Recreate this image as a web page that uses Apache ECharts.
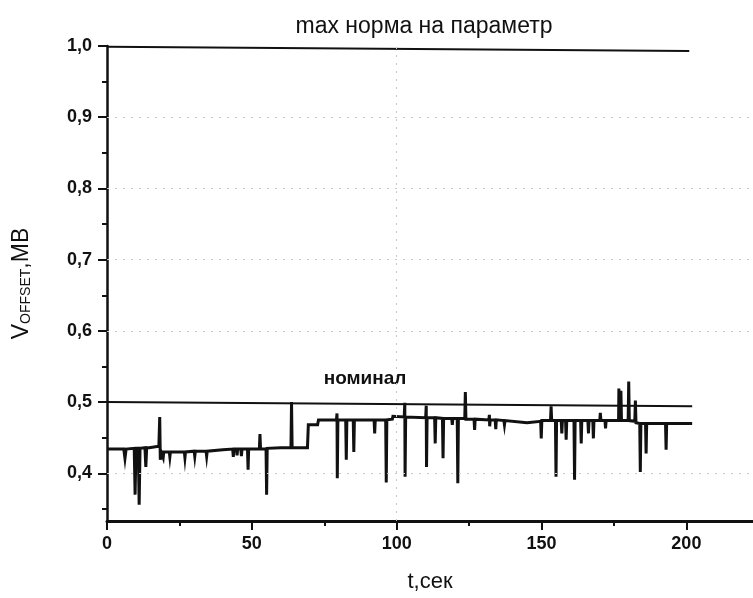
<!DOCTYPE html>
<html>
<head>
<meta charset="utf-8">
<script src="https://cdn.jsdelivr.net/npm/echarts@6/dist/echarts.min.js"></script>
<style>
html,body{margin:0;padding:0;background:#fff;}
#c{width:753px;height:598px;}
</style>
</head>
<body>
<div id="c"></div>
<script>
// ---- data ----
const signalT = [
  0,
  5.8, 6.2, 6.6,
  9.4, 9.7, 10.0,
  10.8, 11.1, 11.4,
  13.1, 13.4, 13.7,
  14.6, 14.9,
  17.9, 18.2, 18.4, 18.7,
  19.2, 19.4, 19.6,
  21.5, 21.7, 21.9,
  26.7, 26.9, 27.1,
  30.1, 30.3, 30.5,
  34.2, 34.4, 34.6,
  40,
  43.4, 43.6, 43.8,
  44.7, 44.9, 45.1,
  46.2, 46.4, 46.6,
  48.5, 48.7, 48.9,
  52.6, 52.8, 53.0,
  54.9, 55.1, 55.3,
  60,
  63.5, 63.7, 63.9,
  69.2, 69.5,
  72.7, 73.0,
  79.2, 79.4, 79.5, 79.7,
  82.4, 82.6, 82.8,
  85.0, 85.2, 85.4,
  92.2, 92.4, 92.6,
  96.2, 96.4, 96.6,
  98.5, 98.7,
  102.6, 102.8, 102.9, 103.1,
  110.0, 110.2, 110.3, 110.5,
  113.1, 113.3, 113.5,
  115.8, 116.0, 116.2,
  119.0, 119.2, 119.4,
  120.9, 121.1, 121.3,
  123.5, 123.7, 123.9,
  126.7, 126.9, 127.1,
  131.8, 132.0, 132.1, 132.3,
  134.0, 134.2, 134.4,
  137.0, 137.2, 137.4,
  145,
  149.7, 149.9, 150.1,
  153.1, 153.3, 153.5,
  154.8, 155.0, 155.2,
  156.8, 157.0, 157.2,
  158.3, 158.5, 158.7,
  161.2, 161.4, 161.6,
  163.5, 163.7, 163.9,
  166.0, 166.2, 166.4,
  167.7, 167.9, 168.1,
  170.1, 170.3, 170.5,
  171.9, 172.1, 172.3,
  176.6, 176.7, 176.9,
  177.3, 177.4, 177.6,
  179.9, 180.1, 180.3,
  182.2, 182.4, 182.6,
  183.9, 184.1, 184.3,
  185.9, 186.1, 186.3,
  192.8, 193.0, 193.2,
  202
];
const signalV = [
  0.434,
  0.434, 0.421, 0.434,
  0.435, 0.370, 0.435,
  0.435, 0.356, 0.435,
  0.436, 0.409, 0.436,
  0.436, 0.438,
  0.438, 0.479, 0.419, 0.430,
  0.430, 0.422, 0.430,
  0.430, 0.423, 0.430,
  0.430, 0.422, 0.430,
  0.431, 0.424, 0.431,
  0.431, 0.424, 0.431,
  0.433,
  0.434, 0.423, 0.434,
  0.434, 0.425, 0.434,
  0.434, 0.424, 0.434,
  0.434, 0.405, 0.434,
  0.434, 0.455, 0.434,
  0.434, 0.370, 0.435,
  0.436,
  0.436, 0.500, 0.436,
  0.436, 0.468,
  0.468, 0.475,
  0.475, 0.484, 0.393, 0.475,
  0.475, 0.419, 0.475,
  0.475, 0.430, 0.475,
  0.475, 0.456, 0.475,
  0.475, 0.387, 0.475,
  0.476, 0.480,
  0.479, 0.499, 0.395, 0.479,
  0.478, 0.495, 0.409, 0.478,
  0.478, 0.442, 0.478,
  0.477, 0.421, 0.477,
  0.477, 0.468, 0.477,
  0.477, 0.386, 0.477,
  0.477, 0.514, 0.476,
  0.476, 0.461, 0.476,
  0.475, 0.482, 0.466, 0.475,
  0.475, 0.462, 0.475,
  0.474, 0.468, 0.474,
  0.471,
  0.473, 0.449, 0.474,
  0.474, 0.494, 0.474,
  0.474, 0.395, 0.474,
  0.474, 0.456, 0.474,
  0.474, 0.447, 0.474,
  0.474, 0.391, 0.474,
  0.474, 0.442, 0.474,
  0.474, 0.456, 0.474,
  0.474, 0.449, 0.474,
  0.474, 0.485, 0.474,
  0.474, 0.463, 0.474,
  0.474, 0.519, 0.474,
  0.474, 0.516, 0.474,
  0.474, 0.529, 0.474,
  0.473, 0.502, 0.471,
  0.470, 0.402, 0.470,
  0.470, 0.428, 0.470,
  0.470, 0.433, 0.470,
  0.470
];
const nominalT = [0, 202];
const nominalV = [0.500, 0.494];
const maxNormT = [0, 201];
const maxNormV = [0.999, 0.993];
const xTicks = [0, 50, 100, 150, 200];
const xMinorTicks = [25, 75, 125, 175];
const yTicks = [0.4, 0.5, 0.6, 0.7, 0.8, 0.9, 1.0];
const yMinorTicks = [0.35, 0.45, 0.55, 0.65, 0.75, 0.85, 0.95];
const gridLinesY = [0.4, 0.6, 0.7, 0.8, 0.9];
const gridLinesX = [100];
const texts = {
  title: 'max норма на параметр',
  nominal: 'номинал',
  xName: 't,сек'
};

const zip = (a, b) => a.map((t, i) => [t, b[i]]);
const FONT = '"Liberation Sans", Arial, sans-serif';

const chart = echarts.init(document.getElementById('c'), null, {renderer: 'canvas'});
chart.setOption({
  backgroundColor: '#ffffff',
  animation: false,
  grid: {left: 107, right: 0, top: 46, bottom: 74, containLabel: false},
  xAxis: [{
    type: 'value', min: 0, max: 223, position: 'bottom',
    name: texts.xName, nameLocation: 'middle', nameGap: 50,
    nameTextStyle: {fontFamily: FONT, fontSize: 22, color: '#111'},
    axisLine: {show: true, lineStyle: {color: '#111', width: 3}},
    axisTick: {show: true, customValues: xTicks, length: 9, inside: false, lineStyle: {color: '#111', width: 2}},
    axisLabel: {customValues: xTicks, margin: 14, fontFamily: FONT, fontSize: 18, fontWeight: 'bold', color: '#111'},
    splitLine: {show: false}
  }, {
    type: 'value', min: 0, max: 223, position: 'bottom',
    axisLine: {show: false},
    axisTick: {show: true, customValues: xMinorTicks, length: 5, lineStyle: {color: '#111', width: 2}},
    axisLabel: {show: false},
    splitLine: {show: false}
  }],
  yAxis: [{
    type: 'value', min: 0.333, max: 1.0, position: 'left',
    name: '{a|V}{b|OFFSET}{a|,МВ}', nameLocation: 'middle', nameGap: 74,
    nameTextStyle: {
      fontFamily: FONT, color: '#111',
      rich: {
        a: {fontFamily: FONT, fontSize: 23, color: '#111', lineHeight: 26, verticalAlign: 'bottom'},
        b: {fontFamily: FONT, fontSize: 14, color: '#111', lineHeight: 16, verticalAlign: 'bottom'}
      }
    },
    axisLine: {show: true, lineStyle: {color: '#111', width: 2.5}},
    axisTick: {show: true, customValues: yTicks, length: 9, lineStyle: {color: '#111', width: 2}},
    axisLabel: {customValues: yTicks, margin: 15, fontFamily: FONT, fontSize: 18, fontWeight: 'bold', color: '#111',
      formatter: v => v.toFixed(1).replace('.', ',')},
    splitLine: {show: false}
  }, {
    type: 'value', min: 0.333, max: 1.0, position: 'left',
    axisLine: {show: false},
    axisTick: {show: true, customValues: yMinorTicks, length: 5, lineStyle: {color: '#111', width: 2}},
    axisLabel: {show: false},
    splitLine: {show: false}
  }],
  graphic: [
    {type: 'text', x: 424, y: 27, style: {text: texts.title, fontFamily: FONT, fontSize: 23, fill: '#111', align: 'center', verticalAlign: 'middle'}},
    {type: 'text', x: 365, y: 379, style: {text: texts.nominal, fontFamily: FONT, fontSize: 19, fontWeight: 'bold', fill: '#111', align: 'center', verticalAlign: 'middle'}}
  ],
  series: [
    {
      type: 'line', name: 'grid', xAxisIndex: 0, yAxisIndex: 0, data: [], silent: true,
      markLine: {
        silent: true, symbol: 'none', label: {show: false},
        lineStyle: {color: '#c8c8c8', width: 1, type: [2, 6]},
        data: gridLinesY.map(v => ({yAxis: v})).concat(gridLinesX.map(v => ({xAxis: v})))
      }
    },
    {
      type: 'line', name: 'max', xAxisIndex: 0, yAxisIndex: 0, showSymbol: false, silent: true,
      lineStyle: {color: '#111', width: 2},
      data: zip(maxNormT, maxNormV)
    },
    {
      type: 'line', name: 'nominal', xAxisIndex: 0, yAxisIndex: 0, showSymbol: false, silent: true,
      lineStyle: {color: '#111', width: 2},
      data: zip(nominalT, nominalV)
    },
    {
      type: 'line', name: 'signal', xAxisIndex: 0, yAxisIndex: 0, showSymbol: false, silent: true,
      lineStyle: {color: '#111', width: 3, join: 'miter'},
      data: zip(signalT, signalV)
    }
  ]
});
</script>
</body>
</html>
